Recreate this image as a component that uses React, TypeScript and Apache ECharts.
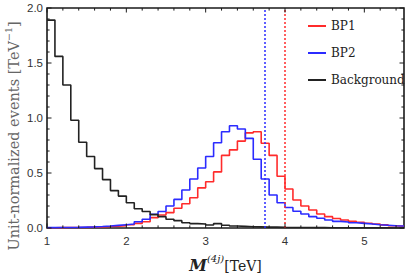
import React, { useEffect, useRef } from "react";
import * as echarts from "echarts";

const binLefts = [
  1.0, 1.1, 1.2, 1.3, 1.4, 1.5, 1.6, 1.7, 1.8, 1.9,
  2.0, 2.1, 2.2, 2.3, 2.4, 2.5, 2.6, 2.7, 2.8, 2.9,
  3.0, 3.1, 3.2, 3.3, 3.4, 3.5, 3.6, 3.7, 3.8, 3.9,
  4.0, 4.1, 4.2, 4.3, 4.4, 4.5, 4.6, 4.7, 4.8, 4.9,
  5.0, 5.1, 5.2, 5.3, 5.4,
];
const lastEdge = 5.5;

const bp1 = [
  0.002, 0.003, 0.004, 0.005, 0.006, 0.008, 0.010, 0.013, 0.017, 0.022,
  0.030, 0.042, 0.057, 0.094, 0.118, 0.140, 0.180, 0.220, 0.275, 0.365,
  0.420, 0.510, 0.660, 0.710, 0.790, 0.865, 0.875, 0.770, 0.660, 0.470,
  0.355, 0.255, 0.200, 0.164, 0.127, 0.103, 0.087, 0.073, 0.060, 0.052,
  0.043, 0.036, 0.028, 0.020, 0.016,
];
const bp2 = [
  0.003, 0.004, 0.005, 0.006, 0.008, 0.010, 0.013, 0.018, 0.024, 0.030,
  0.036, 0.057, 0.080, 0.125, 0.150, 0.200, 0.260, 0.345, 0.445, 0.545,
  0.650, 0.775, 0.875, 0.930, 0.900, 0.815, 0.625, 0.445, 0.300, 0.230,
  0.187, 0.152, 0.127, 0.103, 0.088, 0.073, 0.060, 0.055, 0.048, 0.042,
  0.036, 0.030, 0.025, 0.020, 0.018,
];
const background = [
  1.890, 1.560, 1.300, 0.980, 0.780, 0.650, 0.540, 0.440, 0.340, 0.290,
  0.230, 0.175, 0.150, 0.122, 0.103, 0.079, 0.067, 0.048, 0.040, 0.036,
  0.027, 0.040, 0.025, 0.018, 0.015, 0.012, 0.010, 0.008, 0.008, 0.006,
  0.005, 0.004, 0.004, 0.003, 0.003, 0.002, 0.002, 0.002, 0.001, 0.001,
  0.001, 0.001, 0.001, 0.000, 0.000,
];
const cutBP1 = 4.0;
const cutBP2 = 3.75;
const seriesNames = ["BP1", "BP2", "Background"];

// frame ticks
const xMajorTicks = [1, 2, 3, 4, 5];
const xMinorTicks = [
  1.2, 1.4, 1.6, 1.8, 2.2, 2.4, 2.6, 2.8, 3.2, 3.4, 3.6, 3.8,
  4.2, 4.4, 4.6, 4.8, 5.2, 5.4,
];
const yMajorTicks = [0, 0.5, 1.0, 1.5, 2.0];
const yMinorTicks = [
  0.1, 0.2, 0.3, 0.4, 0.6, 0.7, 0.8, 0.9, 1.1, 1.2, 1.3, 1.4,
  1.6, 1.7, 1.8, 1.9,
];

const xMin = 1, xMax = 5.5, xInterval = 1;
const yMin = 0, yMax = 2, yInterval = 0.5;

const RED = "#ff2b2b";
const BLUE = "#2b2bff";
const BLACK = "#222222";
const FRAME = "#1a1a1a";

function histData(vals: number[]) {
  const d = binLefts.map((x, i) => [x, vals[i]]);
  d.push([lastEdge, vals[vals.length - 1]]);
  return d;
}

export default function App() {
  const ref = useRef<HTMLDivElement>(null);
  useEffect(() => {
    if (!ref.current) return;
    const chart = echarts.init(ref.current, null, { renderer: "svg" });
    const labelStyle = {
      fontFamily: "Liberation Sans",
      fontSize: 11.5,
      color: "#333",
    };
    const mk = (x: number, color: string) => ({
      silent: true,
      symbol: ["none", "none"],
      label: { show: false },
      lineStyle: { color, type: [2, 2], width: 1.5 },
      data: [{ xAxis: x }],
    });
    const majLen = 4.5;
    const minLen = 2.6;
    const xTickData = [
      ...xMajorTicks.map((v) => [v, 1]),
      ...xMinorTicks.map((v) => [v, 0]),
    ];
    const yTickData = [
      ...yMajorTicks.map((v) => [xMin, v, 1]),
      ...yMinorTicks.map((v) => [xMin, v, 0]),
    ];
    const tickStyle = { stroke: FRAME, lineWidth: 1 };
    const option: any = {
      animation: false,
      grid: {
        left: 47,
        right: 5,
        top: 8,
        bottom: 45,
        containLabel: false,
        outerBoundsMode: "none",
        show: true,
        borderColor: FRAME,
        borderWidth: 1.6,
        backgroundColor: "transparent",
      },
      legend: {
        data: seriesNames,
        orient: "vertical",
        left: 303,
        top: 14,
        itemWidth: 18,
        itemHeight: 2,
        icon: "rect",
        itemGap: 13,
        textStyle: { fontFamily: "DejaVu Serif", fontSize: 12, color: "#222", lineHeight: 14 },
      },
      xAxis: {
        type: "value",
        min: xMin,
        max: xMax,
        interval: xInterval,
        axisLine: { show: false },
        axisTick: { show: false },
        splitLine: { show: false },
        axisLabel: { ...labelStyle, margin: 7, showMaxLabel: false },
        name: "{m|M}{s|(4j)}{t|[TeV]}",
        nameLocation: "middle",
        nameGap: 25,
        nameTextStyle: {
          rich: {
            m: { fontFamily: "DejaVu Serif", fontStyle: "italic", fontWeight: "bold", fontSize: 16, color: "#222", verticalAlign: "bottom", lineHeight: 20 },
            s: { fontFamily: "DejaVu Serif", fontStyle: "italic", fontSize: 10, color: "#222", verticalAlign: "top", lineHeight: 20 },
            t: { fontFamily: "DejaVu Serif", fontSize: 14, color: "#222", verticalAlign: "bottom", lineHeight: 20 },
          },
        },
      },
      yAxis: {
        type: "value",
        min: yMin,
        max: yMax,
        interval: yInterval,
        axisLine: { show: false },
        axisTick: { show: false },
        splitLine: { show: false },
        axisLabel: {
          ...labelStyle,
          margin: 4,
          formatter: (v: number) => v.toFixed(1),
        },
      },
      graphic: [
        {
          type: "text",
          x: 12,
          y: 136,
          rotation: Math.PI / 2,
          style: {
            text: "{a|Unit-normalized events [TeV}{s|−1}{a|]}",
            align: "center",
            verticalAlign: "middle",
            rich: {
              a: { fontFamily: "DejaVu Serif", fontSize: 14.5, fill: "#666", verticalAlign: "bottom", lineHeight: 18 },
              s: { fontFamily: "DejaVu Serif", fontSize: 9.5, fill: "#666", verticalAlign: "top", lineHeight: 18 },
            },
          },
        },
      ],
      series: [
        {
          name: "BP1",
          type: "line",
          step: "end",
          showSymbol: false,
          symbol: "none",
          color: RED,
          lineStyle: { color: RED, width: 1.6 },
          data: histData(bp1),
          markLine: mk(cutBP1, RED),
          z: 3,
        },
        {
          name: "BP2",
          type: "line",
          step: "end",
          showSymbol: false,
          symbol: "none",
          color: BLUE,
          lineStyle: { color: BLUE, width: 1.6 },
          data: histData(bp2),
          markLine: mk(cutBP2, BLUE),
          z: 3,
        },
        {
          name: "Background",
          type: "line",
          step: "end",
          showSymbol: false,
          symbol: "none",
          color: BLACK,
          lineStyle: { color: BLACK, width: 1.6 },
          data: histData(background),
          z: 3,
        },
        {
          name: "xticks",
          type: "custom",
          silent: true,
          z: 5,
          encode: { x: 0 },
          data: xTickData,
          renderItem: (params: any, api: any) => {
            const v = api.value(0);
            const len = api.value(1) ? majLen : minLen;
            const pb = api.coord([v, yMin]);
            const pt = api.coord([v, yMax]);
            return {
              type: "group",
              children: [
                { type: "line", shape: { x1: pb[0], y1: pb[1], x2: pb[0], y2: pb[1] - len }, style: tickStyle },
                { type: "line", shape: { x1: pt[0], y1: pt[1], x2: pt[0], y2: pt[1] + len }, style: tickStyle },
              ],
            };
          },
        },
        {
          name: "yticks",
          type: "custom",
          silent: true,
          z: 5,
          encode: { x: 0, y: 1 },
          data: yTickData,
          renderItem: (params: any, api: any) => {
            const v = api.value(1);
            const len = api.value(2) ? majLen : minLen;
            const pl = api.coord([xMin, v]);
            const pr = api.coord([xMax, v]);
            return {
              type: "group",
              children: [
                { type: "line", shape: { x1: pl[0], y1: pl[1], x2: pl[0] + len, y2: pl[1] }, style: tickStyle },
                { type: "line", shape: { x1: pr[0], y1: pr[1], x2: pr[0] - len, y2: pr[1] }, style: tickStyle },
              ],
            };
          },
        },
      ],
    };
    chart.setOption(option);
    return () => chart.dispose();
  }, []);
  return <div ref={ref} style={{ width: 409, height: 273, position: "absolute", left: 0, top: 0 }} />;
}
